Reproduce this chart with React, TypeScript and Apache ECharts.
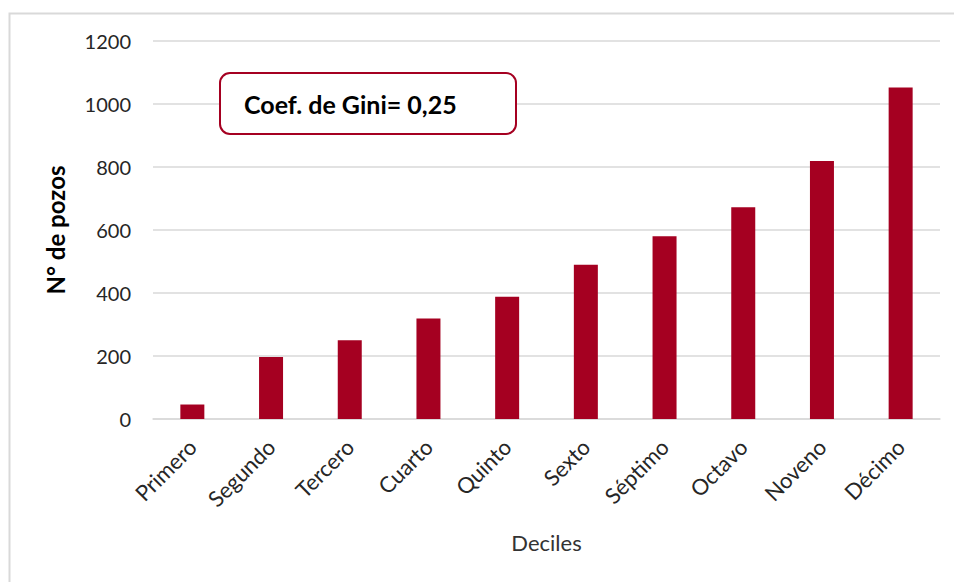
import React, { useEffect, useRef } from "react";
import * as echarts from "echarts";

const categories = ["Primero", "Segundo", "Tercero", "Cuarto", "Quinto", "Sexto", "Séptimo", "Octavo", "Noveno", "Décimo"];
const pozos = [46, 197, 250, 319, 388, 490, 580, 672, 819, 1052];
const yTicks = { min: 0, max: 1200, interval: 200 };
const annotation = "Coef. de Gini= 0,25";
const yName = "N° de pozos";
const xName = "Deciles";

const FONT = "Lato, 'Open Sans', sans-serif";

export default function App() {
  const ref = useRef<HTMLDivElement>(null);
  useEffect(() => {
    if (!ref.current) return;
    const chart = echarts.init(ref.current, null, { renderer: "svg" });
    chart.setOption({
      animation: false,
      backgroundColor: "#ffffff",
      textStyle: { fontFamily: FONT },
      grid: { left: 153, right: 14, top: 41, bottom: 163, containLabel: false },
      xAxis: {
        type: "category",
        data: categories,
        axisTick: { show: false },
        axisLine: { show: true, lineStyle: { color: "#d9d9d9", width: 1.5 } },
        axisLabel: { rotate: 45, color: "#262626", fontSize: 22, margin: 24, fontFamily: FONT },
        name: xName,
        nameLocation: "middle",
        nameGap: 112,
        nameTextStyle: { color: "#333333", fontSize: 22, fontFamily: FONT },
      },
      yAxis: {
        type: "value",
        min: yTicks.min,
        max: yTicks.max,
        interval: yTicks.interval,
        axisLine: { show: false },
        axisTick: { show: false },
        splitLine: { lineStyle: { color: "#d9d9d9", width: 1.5 } },
        axisLabel: { color: "#262626", fontSize: 20, margin: 22, fontFamily: FONT, formatter: (v: number) => String(v) },
        name: yName,
        nameLocation: "middle",
        nameGap: 86,
        nameTextStyle: { color: "#000000", fontSize: 24, fontWeight: "bold", fontFamily: FONT },
      },
      series: [
        {
          type: "bar",
          data: pozos,
          barWidth: 24,
          itemStyle: { color: "#a50021" },
        },
      ],
      graphic: [
        {
          type: "rect",
          left: 7,
          top: 11,
          shape: { width: 960, height: 600 },
          style: { fill: "none", stroke: "#d9d9d9", lineWidth: 2 },
          silent: true,
        },
        {
          type: "rect",
          shape: { x: 220, y: 73, width: 296, height: 61, r: 10 },
          style: { fill: "#ffffff", stroke: "#a50021", lineWidth: 2 },
          z: 10,
        },
        {
          type: "text",
          x: 244,
          y: 104,
          style: {
            text: annotation,
            fill: "#000000",
            font: "bold 25px " + FONT,
            verticalAlign: "middle",
            align: "left",
          },
          z: 11,
        },
      ],
    });
    return () => chart.dispose();
  }, []);
  return <div ref={ref} style={{ position: "absolute", left: 0, top: 0, width: 954, height: 582 }} />;
}
